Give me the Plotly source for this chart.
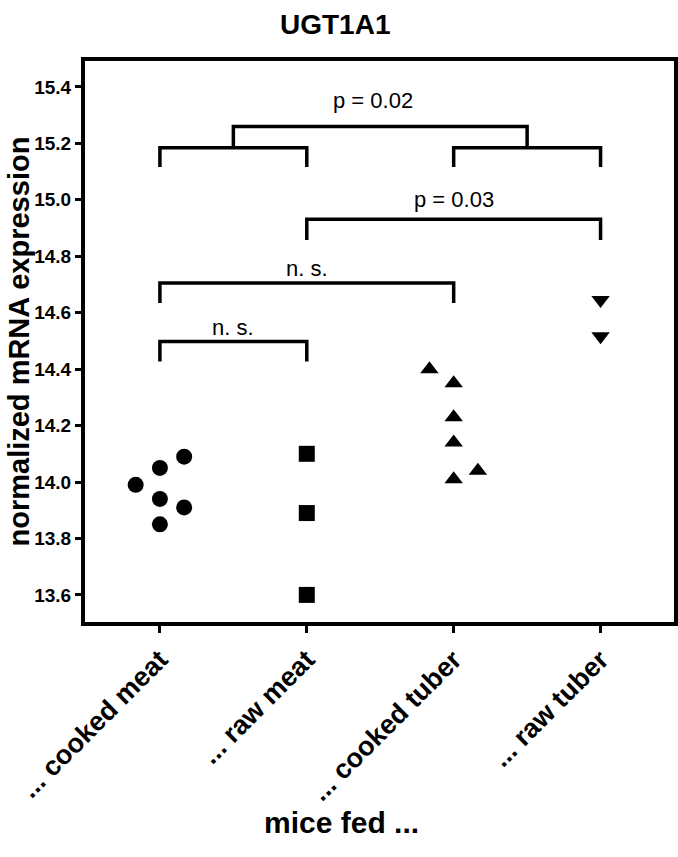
import plotly.graph_objects as go

# ---- data ----
categories = ["... cooked meat", "... raw meat", "... cooked tuber", "... raw tuber"]

cooked_meat = [13.99, 14.05, 14.09, 13.94, 13.91, 13.85]
cooked_meat_jitter = [-0.165, 0.0, 0.165, 0.0, 0.165, 0.0]

raw_meat = [14.10, 13.89, 13.60]
raw_meat_jitter = [0.0, 0.0, 0.0]

cooked_tuber = [14.40, 14.35, 14.23, 14.14, 14.01, 14.04]
cooked_tuber_jitter = [-0.165, 0.0, 0.0, 0.0, 0.0, 0.165]

raw_tuber = [14.645, 14.517]
raw_tuber_jitter = [0.0, 0.0]

y_tick_vals = [13.6, 13.8, 14.0, 14.2, 14.4, 14.6, 14.8, 15.0, 15.2, 15.4]
y_tick_text = ["13.6", "13.8", "14.0", "14.2", "14.4", "14.6", "14.8", "15.0", "15.2", "15.4"]

# significance brackets: (x start, x end, bar level, leg level)
brackets = [
    (0, 1, 15.185, 15.116),
    (2, 3, 15.185, 15.116),
    (0.5, 2.5, 15.26, 15.185),
    (1, 3, 14.931, 14.858),
    (0, 2, 14.705, 14.634),
    (0, 1, 14.498, 14.427),
]
labels = ["p = 0.02", "p = 0.03", "n. s.", "n. s."]
label_x = [1.45, 2.0, 1.0, 0.5]
label_y = [15.352, 15.0, 14.758, 14.546]

FONT = "Arial, Liberation Sans, sans-serif"

fig = go.Figure()

groups = [
    (cooked_meat, cooked_meat_jitter, "circle"),
    (raw_meat, raw_meat_jitter, "square"),
    (cooked_tuber, cooked_tuber_jitter, "triangle-up"),
    (raw_tuber, raw_tuber_jitter, "triangle-down"),
]
for i, (vals, jit, sym) in enumerate(groups):
    fig.add_trace(go.Scatter(
        x=[i + j for j in jit], y=vals, mode="markers",
        marker=dict(symbol=sym, size=16, color="black", line=dict(width=0)),
        showlegend=False, hoverinfo="y",
    ))

for (x0, x1, yb, yl) in brackets:
    fig.add_trace(go.Scatter(
        x=[x0, x0, x1, x1], y=[yl, yb, yb, yl], mode="lines",
        line=dict(color="black", width=3.5), showlegend=False, hoverinfo="skip",
    ))

for t, lx, ly in zip(labels, label_x, label_y):
    fig.add_annotation(x=lx, y=ly, text=t, showarrow=False,
                       font=dict(family=FONT, size=22, color="black"),
                       xanchor="center", yanchor="middle")

# chart title
fig.add_annotation(x=0.424, y=1.0, xref="paper", yref="paper", yshift=37,
                   text="<b>UGT1A1</b>", showarrow=False,
                   xanchor="center", yanchor="middle",
                   font=dict(family=FONT, size=28, color="black"))
# y axis title
fig.add_annotation(x=0.0, y=0.5, xref="paper", yref="paper", xshift=-67,
                   text="<b>normalized mRNA expression</b>", textangle=-90, showarrow=False,
                   xanchor="center", yanchor="middle",
                   font=dict(family=FONT, size=29, color="black"))
# x axis title
fig.add_annotation(x=0.435, y=0.0, xref="paper", yref="paper", yshift=-200,
                   text="<b>mice fed ...</b>", showarrow=False,
                   xanchor="center", yanchor="middle",
                   font=dict(family=FONT, size=30, color="black"))

fig.update_layout(
    width=678, height=857,
    margin=dict(l=85, r=4, t=61, b=235),
    plot_bgcolor="white", paper_bgcolor="white",
    xaxis=dict(
        range=[-0.51, 3.5], tickvals=[0, 1, 2, 3], ticktext=categories,
        tickangle=-45, tickfont=dict(family=FONT, size=27, color="black", weight="bold"),
        showline=True, mirror=True, linecolor="black", linewidth=4,
        ticks="outside", ticklen=7, tickwidth=3, tickcolor="black",
        showgrid=False, zeroline=False, automargin=False,
    ),
    yaxis=dict(
        range=[13.504, 15.492], tickvals=y_tick_vals, ticktext=y_tick_text,
        tickfont=dict(family=FONT, size=19, color="black", weight="bold"),
        showline=True, mirror=True, linecolor="black", linewidth=4,
        ticks="outside", ticklen=6, tickwidth=3, tickcolor="black",
        showgrid=False, zeroline=False, automargin=False,
    ),
)

fig.write_html("out.html", config={"displayModeBar": False},
               post_script="document.body.style.margin='0px';")
